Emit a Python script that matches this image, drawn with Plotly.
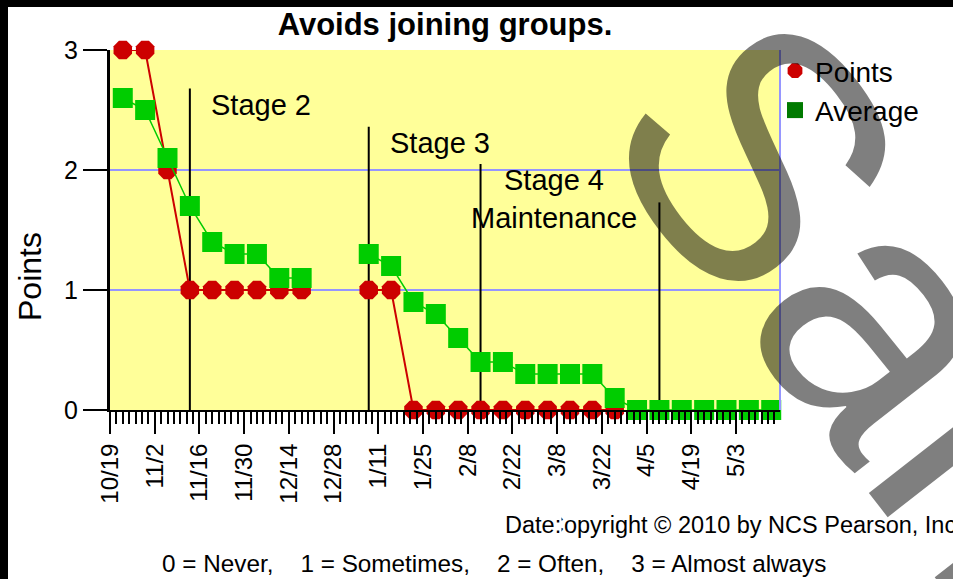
import plotly.graph_objects as go

# weekly check dates (Fridays) and values
dates = ["2009-10-23", "2009-10-30", "2009-11-06", "2009-11-13", "2009-11-20", "2009-11-27",
         "2009-12-04", "2009-12-11", "2009-12-18", "2009-12-25", "2010-01-01", "2010-01-08",
         "2010-01-15", "2010-01-22", "2010-01-29", "2010-02-05", "2010-02-12", "2010-02-19",
         "2010-02-26", "2010-03-05", "2010-03-12", "2010-03-19", "2010-03-26", "2010-04-02",
         "2010-04-09", "2010-04-16", "2010-04-23", "2010-04-30", "2010-05-07", "2010-05-14"]
points = [3, 3, 2, 1, 1, 1, 1, 1, 1, None, None, 1, 1, 0, 0, 0, 0, 0, 0, 0, 0, 0, 0,
          None, None, None, None, None, None, None]
average = [2.6, 2.5, 2.1, 1.7, 1.4, 1.3, 1.3, 1.1, 1.1, None, None, 1.3, 1.2, 0.9, 0.8, 0.6,
           0.4, 0.4, 0.3, 0.3, 0.3, 0.3, 0.1, 0, 0, 0, 0, 0, 0, 0]

# stage divider lines
stage_dates = ["2009-11-13", "2010-01-08", "2010-02-12", "2010-04-09"]
stage_tops = [2.68, 2.36, 2.05, 1.73]
stage_labels = ["Stage 2", "Stage 3", "Stage 4<br>Maintenance"]
stage_label_x = ["2009-11-19", "2010-01-14", "2010-03-07"]
stage_label_y = [2.54, 2.225, 1.76]
stage_label_anchor = ["left", "left", "center"]

x_start, x_end = "2009-10-19", "2010-05-16 18:00"
DAY = 86400000
FONT = "Liberation Sans, Arial, sans-serif"

# plot area in page pixels
L, R, T, B = 110, 780, 50, 410
def px(x):
    return (x - L) / (R - L)
def py(y):
    return (B - y) / (B - T)

RED = "#cc0000"
GREEN = "#00cc00"
GRID = "rgb(150,150,255)"

fig = go.Figure()
fig.add_trace(go.Scatter(x=dates, y=points, mode="lines+markers", name="Points", showlegend=False,
                         line=dict(color=RED, width=2), connectgaps=False, cliponaxis=False,
                         marker=dict(symbol="octagon", size=20, color=RED)))
fig.add_trace(go.Scatter(x=dates, y=average, mode="lines+markers", name="Average", showlegend=False,
                         line=dict(color=GREEN, width=1.5), connectgaps=False, cliponaxis=False,
                         marker=dict(symbol="square", size=20, color=GREEN)))
# legend-only entries
fig.add_trace(go.Scatter(x=[None], y=[None], mode="markers", name="Points",
                         marker=dict(symbol="octagon", size=20, color=RED)))
fig.add_trace(go.Scatter(x=[None], y=[None], mode="markers", name="Average",
                         marker=dict(symbol="square", size=20, color="#007a00")))

shapes = []
for d, top in zip(stage_dates, stage_tops):
    shapes.append(dict(type="line", xref="x", yref="y", x0=d, x1=d, y0=0, y1=top,
                       line=dict(color="black", width=2), layer="between"))
# right blue border
shapes.append(dict(type="line", xref="paper", yref="paper", x0=1, x1=1, y0=0, y1=1,
                   line=dict(color=GRID, width=2)))
# black frame, left and top
shapes.append(dict(type="rect", xref="paper", yref="paper", x0=px(0), x1=px(8), y0=py(579), y1=py(0),
                   fillcolor="black", line=dict(width=0)))
shapes.append(dict(type="rect", xref="paper", yref="paper", x0=px(0), x1=px(953), y0=py(7), y1=py(0),
                   fillcolor="black", line=dict(width=0)))

annotations = []
for txt, xd, yd, anc in zip(stage_labels, stage_label_x, stage_label_y, stage_label_anchor):
    annotations.append(dict(text=txt, x=xd, y=yd, xref="x", yref="y", showarrow=False,
                            xanchor=anc, yanchor="middle", align="center",
                            font=dict(size=29, color="black", family=FONT)))
annotations += [
    dict(text="Points", x=px(30), y=py(277), xref="paper", yref="paper", showarrow=False,
         xanchor="center", yanchor="middle", textangle=-90,
         font=dict(size=32, color="black", family=FONT)),
    dict(text="Copyright © 2010 by NCS Pearson, Inc.", x=px(545), y=py(525), xref="paper", yref="paper",
         showarrow=False, xanchor="left", yanchor="middle", font=dict(size=23.5, color="black", family=FONT)),
    dict(text="Date:", x=px(562), y=py(525), xref="paper", yref="paper", showarrow=False,
         xanchor="right", yanchor="middle", bgcolor="white", borderpad=0,
         font=dict(size=23.5, color="black", family=FONT)),
    dict(text="0 = Never,\u00a0\u00a0\u00a0\u00a01 = Sometimes,\u00a0\u00a0\u00a0\u00a02 = Often,"
              "\u00a0\u00a0\u00a0\u00a03 = Almost always",
         x=px(160), y=py(563), xref="paper", yref="paper", showarrow=False, xanchor="left",
         yanchor="middle", font=dict(size=24.3, color="black", family=FONT)),
    # watermark
    dict(text="Sample", x=px(1050), y=py(530), xref="paper", yref="paper", showarrow=False,
         xanchor="center", yanchor="middle", textangle=52,
         font=dict(size=350, color="rgba(0,0,0,0.5)", family=FONT)),
]

fig.update_layout(
    width=953, height=579,
    margin=dict(l=L, r=953 - R, t=T, b=579 - B),
    paper_bgcolor="white", plot_bgcolor="#ffff99",
    font=dict(family=FONT, color="black"),
    title=dict(text="Avoids joining groups.", x=0.5, xref="paper", xanchor="center",
               y=1 - 24 / 579, yref="container", yanchor="middle",
               font=dict(size=31, weight="bold", color="black", family=FONT)),
    legend=dict(x=px(775), y=py(46), xref="paper", yref="paper", xanchor="left", yanchor="top",
                bgcolor="rgba(0,0,0,0)", font=dict(size=28, color="black"), tracegroupgap=0),
    shapes=shapes, annotations=annotations,
)
fig.update_xaxes(type="date", range=[x_start, x_end], tick0=x_start, dtick=14 * DAY,
                 tickformat="%-m/%-d", tickangle=-90, ticks="outside", ticklen=22, tickwidth=2,
                 tickcolor="black", tickfont=dict(size=24, color="black"), showgrid=False,
                 showline=True, linecolor="black", linewidth=2, zeroline=False,
                 minor=dict(tick0=x_start, dtick=2 * DAY, ticks="outside", ticklen=12, tickwidth=1.5,
                            tickcolor="black", showgrid=False))
fig.update_yaxes(range=[0, 3], tickvals=[0, 1, 2, 3], ticks="outside", ticklen=24, tickwidth=2,
                 tickcolor="black", tickfont=dict(size=25, color="black"), showgrid=True,
                 gridcolor=GRID, gridwidth=1.5, showline=True, linecolor="black", linewidth=3,
                 zeroline=False)

fig.write_html("out.html", config={"displayModeBar": False},
               post_script="document.body.style.margin='0px';")
